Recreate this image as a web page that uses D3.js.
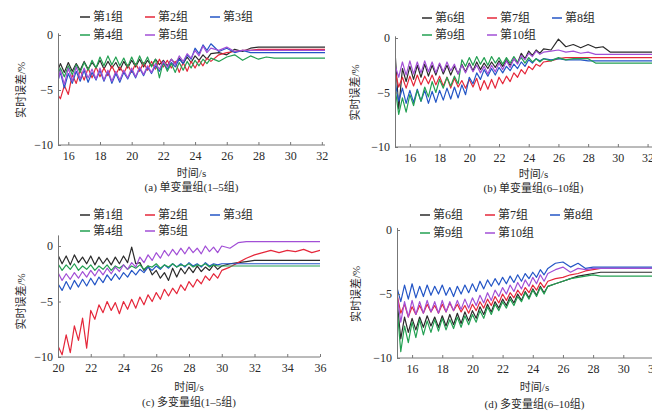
<!DOCTYPE html>
<html>
<head>
<meta charset="utf-8">
<script src="https://cdn.jsdelivr.net/npm/d3@7"></script>
<style>
  body { margin: 0; background: #fff; }
  svg { display: block; }
  text { font-family: "Liberation Serif", "Noto Sans CJK SC", serif; fill: #2a2a2a; }
  .tick text { font-size: 12px; }
  .tick line, .domain { stroke: #777; }
</style>
</head>
<body>
<div class="canvas"></div>
<script>
// time grids (s)
const T1 = [15.0,15.25,15.5,15.75,16.0,16.25,16.5,16.75,17.0,17.25,
  17.5,17.75,18.0,18.25,18.5,18.75,19.0,19.25,19.5,19.75,
  20.0,20.25,20.5,20.75,21.0,21.25,21.5,21.75,22.0,22.25,
  22.5,22.75,23.0,23.25,23.5,23.75,24.0,24.25,24.5,24.75,
  25.0,25.5,26.0,26.5,27.0,27.5,28.0,28.5,29.0,29.5,
  30.0,30.5,31.0,31.5,32.0,32.5];
const T2 = [20.0,20.25,20.5,20.75,21.0,21.25,21.5,21.75,22.0,22.25,
  22.5,22.75,23.0,23.25,23.5,23.75,24.0,24.25,24.5,24.75,
  25.0,25.25,25.5,25.75,26.0,26.25,26.5,26.75,27.0,27.25,
  27.5,27.75,28.0,28.25,28.5,28.75,29.0,29.25,29.5,29.75,
  30.0,30.5,31.0,31.5,32.0,32.5,33.0,33.5,34.0,34.5,
  35.0,35.5,36.0];

const names1 = ['第1组','第2组','第3组','第4组','第5组'];
const names2 = ['第6组','第7组','第8组','第9组','第10组'];
const yTicks = [0, -5, -10];
const xTicks1 = [16,18,20,22,24,26,28,30,32];
const xTicks2 = [20,22,24,26,28,30,32,34,36];

// (a) 单变量组 1-5
const a1 = [-2.8,-3.6,-2.6,-3.4,-2.5,-3.3,-2.6,-3.2,-2.4,-3.1,
  -2.5,-3.0,-2.3,-3.1,-2.4,-3.0,-2.5,-3.2,-2.4,-3.0,
  -2.3,-2.9,-2.2,-2.9,-2.3,-2.8,-2.2,-2.7,-2.3,-2.8,
  -2.2,-2.6,-2.1,-2.6,-2.0,-2.5,-1.9,-2.3,-1.8,-2.2,
  -1.7,-1.6,-1.8,-1.3,-1.5,-1.2,-1.1,-1.1,-1.1,-1.1,
  -1.1,-1.1,-1.1,-1.1,-1.1,-1.1];
const a2 = [-3.0,-5.2,-5.8,-4.6,-5.4,-3.6,-4.4,-3.2,-4.1,-3.0,
  -3.9,-2.9,-3.8,-3.0,-3.7,-2.8,-3.6,-2.9,-3.5,-2.7,
  -3.4,-2.6,-3.3,-2.5,-3.2,-2.4,-3.1,-2.2,-2.9,-2.3,
  -3.0,-2.4,-3.4,-2.5,-3.3,-2.4,-3.0,-2.3,-2.8,-2.1,
  -2.4,-1.8,-1.6,-1.5,-1.4,-1.4,-1.3,-1.3,-1.3,-1.3,
  -1.3,-1.3,-1.3,-1.3,-1.3,-1.3];
const a3 = [-3.0,-4.6,-3.4,-4.8,-3.5,-4.4,-3.3,-4.2,-3.2,-4.3,
  -3.4,-4.1,-3.2,-4.2,-3.3,-4.4,-3.5,-4.3,-3.4,-4.0,
  -3.2,-3.9,-3.0,-3.7,-2.9,-3.5,-2.8,-3.3,-2.6,-3.1,
  -2.5,-2.9,-2.2,-2.6,-1.8,-2.2,-1.2,-1.7,-0.9,-1.4,
  -0.8,-1.5,-1.2,-1.6,-1.4,-1.6,-1.6,-1.6,-1.6,-1.6,
  -1.6,-1.6,-1.6,-1.6,-1.6,-1.6];
const a4 = [-3.2,-4.0,-3.0,-3.8,-2.8,-3.6,-2.7,-3.4,-2.5,-3.2,
  -2.3,-3.0,-2.0,-2.8,-1.9,-2.7,-2.0,-2.8,-2.1,-2.9,
  -2.0,-2.8,-1.9,-2.7,-2.0,-2.9,-2.2,-3.9,-2.4,-3.3,
  -2.6,-3.4,-2.5,-3.2,-2.4,-3.0,-2.3,-2.8,-2.2,-2.6,
  -2.1,-2.4,-2.0,-1.8,-2.3,-1.9,-2.2,-2.0,-2.1,-2.1,
  -2.1,-2.1,-2.1,-2.1,-2.1,-2.1];
const a5 = [-2.8,-4.9,-3.2,-4.5,-3.0,-4.2,-2.9,-4.0,-3.0,-3.9,
  -3.1,-4.0,-3.0,-4.1,-3.2,-4.2,-3.3,-4.1,-3.2,-3.9,
  -3.0,-3.8,-2.9,-3.6,-2.8,-3.4,-2.6,-3.1,-2.4,-2.9,
  -2.2,-2.7,-1.9,-2.4,-1.7,-2.1,-1.4,-1.9,-1.0,-1.6,
  -1.2,-1.4,-1.1,-1.5,-1.4,-1.4,-1.4,-1.4,-1.4,-1.4,
  -1.4,-1.4,-1.4,-1.4,-1.4,-1.4];

// (b) 单变量组 6-10
const b1 = [-1.2,-6.5,-2.8,-4.0,-2.6,-3.8,-2.5,-3.6,-2.4,-3.5,
  -2.5,-3.4,-2.4,-3.3,-2.5,-3.4,-2.6,-3.3,-2.4,-3.1,
  -2.3,-3.0,-2.2,-2.9,-2.3,-2.8,-2.2,-2.7,-2.1,-2.6,
  -2.0,-2.5,-1.9,-2.3,-1.4,-1.9,-1.2,-1.6,-1.1,-1.4,
  -1.0,-1.1,-0.1,-0.8,-0.6,-0.9,-0.6,-0.9,-0.8,-1.3,
  -1.3,-1.3,-1.3,-1.3,-1.3,-1.3];
const b2 = [-3.0,-4.5,-3.6,-4.6,-3.5,-4.4,-3.4,-4.3,-3.5,-4.2,
  -3.4,-4.3,-3.5,-4.4,-3.6,-4.6,-3.7,-4.5,-3.9,-4.6,
  -3.8,-4.5,-3.7,-4.8,-3.9,-4.7,-3.8,-4.6,-3.6,-4.2,
  -3.5,-4.0,-3.2,-3.6,-2.9,-3.3,-2.6,-2.9,-2.4,-2.6,
  -2.2,-2.1,-1.9,-1.8,-1.8,-1.8,-1.8,-1.8,-1.8,-1.8,
  -1.8,-1.8,-1.8,-1.8,-1.8,-1.8];
const b3 = [-4.0,-5.8,-4.6,-6.0,-4.8,-5.9,-4.7,-5.8,-4.8,-6.0,
  -4.9,-5.9,-4.8,-5.7,-4.6,-5.6,-4.5,-5.5,-4.3,-5.2,
  -3.6,-4.2,-3.2,-3.8,-2.9,-3.5,-2.8,-3.4,-2.7,-3.2,
  -2.6,-3.0,-2.4,-2.8,-2.2,-2.6,-2.0,-2.3,-1.9,-2.1,
  -1.9,-2.0,-1.9,-2.0,-2.0,-2.0,-2.1,-2.1,-2.1,-2.1,
  -2.1,-2.1,-2.1,-2.1,-2.1,-2.1];
const b4 = [-4.5,-7.0,-5.5,-6.8,-5.2,-6.2,-4.8,-5.8,-4.5,-5.4,
  -4.0,-5.0,-3.8,-4.6,-3.6,-4.4,-3.5,-4.2,-2.0,-2.6,
  -1.8,-2.5,-1.7,-2.4,-1.8,-2.5,-1.7,-2.3,-1.8,-2.4,
  -1.8,-2.3,-1.7,-2.2,-1.8,-2.3,-1.8,-2.2,-1.9,-2.2,
  -1.9,-2.1,-1.8,-2.0,-1.9,-1.9,-1.9,-2.3,-2.3,-2.3,
  -2.3,-2.3,-2.3,-2.3,-2.3,-2.3];
const b5 = [-2.5,-3.6,-2.2,-3.4,-2.1,-3.3,-2.2,-3.2,-2.1,-3.1,
  -2.2,-3.2,-2.3,-3.1,-2.2,-3.0,-2.4,-3.3,-2.5,-3.2,
  -2.4,-3.1,-2.5,-3.2,-2.6,-3.3,-2.5,-3.1,-2.3,-2.9,
  -2.1,-2.7,-1.9,-2.4,-1.6,-2.0,-1.4,-1.7,-1.2,-1.5,
  -1.3,-1.2,-1.1,-1.3,-1.2,-1.4,-1.3,-1.5,-1.5,-1.5,
  -1.5,-1.5,-1.5,-1.5,-1.5,-1.5];

// (c) 多变量组 1-5
const c1 = [-0.8,-1.6,-0.9,-1.7,-0.8,-1.5,-1.0,-1.6,-0.9,-1.7,
  -1.0,-1.6,-1.1,-1.7,-1.0,-1.6,-0.9,-1.5,-0.1,-1.6,
  -1.5,-2.2,-1.8,-2.6,-2.2,-2.9,-2.4,-3.1,-2.0,-2.8,
  -2.0,-2.5,-1.9,-2.4,-1.8,-2.3,-1.9,-2.2,-1.7,-2.1,
  -1.8,-1.6,-1.5,-1.4,-1.3,-1.3,-1.3,-1.3,-1.3,-1.3,
  -1.3,-1.3,-1.3];
const c2 = [-9.0,-9.8,-8.0,-9.6,-7.2,-8.5,-6.5,-9.2,-5.8,-6.6,
  -5.3,-6.0,-5.0,-5.8,-5.1,-6.1,-5.0,-5.7,-4.8,-5.6,
  -4.6,-5.3,-4.4,-5.0,-4.2,-4.8,-3.9,-4.5,-3.8,-4.3,
  -3.5,-4.0,-3.2,-3.7,-3.0,-3.4,-2.7,-3.1,-2.5,-2.9,
  -2.2,-1.9,-1.5,-1.1,-0.8,-0.6,-0.4,-0.6,-0.4,-0.5,
  -0.3,-0.6,-0.4];
const c3 = [-3.4,-4.0,-3.2,-3.9,-3.1,-3.7,-3.0,-3.6,-2.9,-3.5,
  -2.8,-3.3,-2.6,-3.1,-2.5,-3.0,-2.4,-2.8,-2.2,-2.6,
  -2.1,-2.4,-1.9,-2.2,-1.8,-2.1,-1.7,-2.0,-1.6,-1.9,
  -1.6,-1.9,-1.5,-1.8,-1.6,-1.9,-1.5,-1.8,-1.6,-1.7,
  -1.6,-1.6,-1.6,-1.6,-1.6,-1.6,-1.6,-1.6,-1.6,-1.6,
  -1.6,-1.6,-1.6];
const c4 = [-1.6,-2.2,-1.7,-2.1,-1.6,-2.2,-1.8,-2.1,-1.7,-2.2,
  -1.8,-2.1,-1.7,-2.2,-1.8,-2.0,-1.7,-2.1,-1.8,-2.0,
  -1.7,-2.1,-1.8,-1.9,-1.6,-2.0,-1.7,-1.9,-1.6,-1.9,
  -1.7,-1.8,-1.6,-1.9,-1.7,-1.8,-1.6,-1.9,-1.7,-1.8,
  -1.8,-1.8,-1.8,-1.8,-1.8,-1.8,-1.8,-1.8,-1.8,-1.8,
  -1.8,-1.8,-1.8];
const c5 = [-2.4,-3.1,-2.5,-3.0,-2.4,-2.9,-2.3,-2.8,-2.2,-2.7,
  -2.1,-2.6,-2.0,-2.5,-1.9,-2.3,-1.7,-2.1,-1.5,-1.9,
  -1.0,-1.5,-0.8,-1.3,-0.6,-1.1,-0.4,-0.9,-0.3,-0.8,
  -0.2,-0.7,-0.1,-0.6,-0.2,-0.7,0.0,-0.5,-0.1,-0.6,
  0.0,-0.2,0.3,0.4,0.4,0.4,0.4,0.4,0.4,0.4,
  0.4,0.4,0.4];

// (d) 多变量组 6-10
const d1 = [-5.5,-8.5,-6.8,-8.0,-6.9,-7.8,-6.8,-7.6,-6.7,-7.5,
  -6.8,-7.6,-6.7,-7.5,-6.6,-7.4,-6.5,-7.3,-6.4,-7.1,
  -6.3,-6.9,-6.0,-6.6,-5.8,-6.4,-5.6,-6.1,-5.4,-5.9,
  -5.2,-5.7,-5.0,-5.5,-4.8,-5.3,-4.6,-5.1,-4.4,-4.9,
  -4.4,-4.2,-4.0,-3.8,-3.6,-3.5,-3.4,-3.3,-3.3,-3.3,
  -3.3,-3.3,-3.3,-3.3,-3.3,-3.3];
const d2 = [-5.0,-6.5,-5.8,-6.8,-6.0,-6.6,-5.9,-6.5,-5.8,-6.4,
  -5.9,-6.5,-5.8,-6.4,-5.7,-6.3,-5.8,-6.4,-5.9,-6.5,
  -5.8,-6.3,-5.6,-6.1,-5.4,-5.9,-5.2,-5.7,-5.0,-5.5,
  -4.9,-5.3,-4.7,-5.1,-4.5,-4.9,-4.3,-4.7,-4.1,-4.5,
  -4.0,-3.8,-3.7,-3.5,-3.4,-3.2,-3.1,-3.0,-3.0,-3.0,
  -3.0,-3.0,-3.0,-3.0,-3.0,-3.0];
const d3v = [-4.5,-5.6,-4.3,-5.4,-4.2,-5.3,-4.4,-5.2,-4.3,-5.1,
  -4.4,-5.0,-4.3,-5.1,-4.5,-5.2,-4.4,-5.0,-4.3,-4.9,
  -4.2,-4.8,-4.0,-4.6,-3.9,-4.4,-3.8,-4.3,-3.7,-4.2,
  -3.6,-4.1,-3.5,-4.0,-3.4,-3.8,-3.3,-3.7,-3.1,-3.5,
  -3.0,-2.6,-2.5,-2.9,-2.6,-3.0,-2.9,-2.9,-2.9,-2.9,
  -2.9,-2.9,-2.9,-2.9,-2.9,-2.9];
const d4 = [-6.0,-9.5,-7.5,-8.8,-7.2,-8.4,-7.0,-8.2,-7.1,-8.0,
  -7.0,-7.9,-6.9,-7.8,-7.0,-7.7,-6.8,-7.6,-6.7,-7.4,
  -6.6,-7.2,-6.3,-6.9,-6.0,-6.6,-5.8,-6.3,-5.6,-6.1,
  -5.4,-5.9,-5.2,-5.6,-4.9,-5.4,-4.7,-5.2,-4.5,-5.0,
  -4.4,-4.2,-4.0,-3.8,-3.7,-3.6,-3.5,-3.6,-3.6,-3.6,
  -3.6,-3.6,-3.6,-3.6,-3.6,-3.6];
const d5 = [-5.0,-7.2,-5.6,-6.8,-5.5,-6.6,-5.6,-6.5,-5.5,-6.4,
  -5.6,-6.5,-5.5,-6.4,-5.6,-6.3,-5.5,-6.2,-5.4,-6.1,
  -5.3,-5.9,-5.1,-5.7,-4.9,-5.5,-4.7,-5.2,-4.5,-5.0,
  -4.3,-4.8,-4.1,-4.6,-3.9,-4.4,-3.7,-4.2,-3.5,-4.0,
  -3.4,-3.1,-2.9,-3.3,-3.0,-3.1,-3.0,-3.0,-3.0,-3.0,
  -3.0,-3.0,-3.0,-3.0,-3.0,-3.0];

const colours = ['#2b2b2b', '#e5273a', '#2456c6', '#23a052', '#a24fd6'];

// layout of the four panels
const panels = [
  { t: T1, series: [a1,a2,a3,a4,a5], names: names1, xTicks: xTicks1, dom: [15.35, 32.2],
    left: 58, right: 325, top: 35, bottom: 145, ext: 0.2, legX: 80, legY: [17, 35],
    ylabX: 22, titleY: 177, capY: 191, cap: '(a) 单变量组(1–5组)' },
  { t: T1, series: [b1,b2,b3,b4,b5], names: names2, xTicks: xTicks1, dom: [15, 32.5],
    left: 395, right: 655, top: 38, bottom: 147, ext: 0.2, legX: 422, legY: [18, 35],
    ylabX: 356, titleY: 178, capY: 192, cap: '(b) 单变量组(6–10组)' },
  { t: T2, series: [c1,c2,c3,c4,c5], names: names1, xTicks: xTicks2, dom: [20, 36],
    left: 58, right: 320, top: 246, bottom: 357, ext: 1.0, legX: 80, legY: [215, 231],
    ylabX: 22, titleY: 391, capY: 406, cap: '(c) 多变量组(1–5组)' },
  { t: T1, series: [d1,d2,d3v,d4,d5], names: names2, xTicks: xTicks1, dom: [15, 32.5],
    left: 397, right: 661, top: 230, bottom: 358, ext: 0.2, legX: 420, legY: [215, 233],
    ylabX: 357, titleY: 391, capY: 408, cap: '(d) 多变量组(6–10组)' }
];

const svg = d3.select('.canvas')
  .append('svg')
  .attr('width', 652)
  .attr('height', 417);

panels.forEach((p, pi) => {
  const x = d3.scaleLinear().domain(p.dom).range([p.left, p.right]);
  const y = d3.scaleLinear().domain([-10, 0]).range([p.bottom, p.top]);
  const yAx = y.copy().domain([-10, p.ext]).range([p.bottom, y(p.ext)]);

  const g = svg.append('g');

  // clip lines to the x range of the plot
  g.append('clipPath').attr('id', 'clip' + pi)
    .append('rect')
      .attr('x', p.left).attr('y', y(2))
      .attr('width', p.right - p.left).attr('height', y(-11) - y(2));

  const line = d3.line()
    .x(d => x(d[0]))
    .y(d => y(d[1]));

  const lines = g.append('g').attr('clip-path', `url(#clip${pi})`);
  p.series.forEach((s, i) => {
    const pts = s.slice(0, p.t.length).map((v, k) => [p.t[k], v]);
    lines.append('path')
      .datum(pts)
      .attr('fill', 'none')
      .attr('stroke', colours[i])
      .attr('stroke-width', 1.2)
      .attr('stroke-linejoin', 'round')
      .attr('d', line);
  });

  // axes
  g.append('g')
    .attr('transform', `translate(0,${p.bottom})`)
    .call(d3.axisBottom(x).tickValues(p.xTicks).tickSizeInner(-3).tickSizeOuter(0).tickPadding(6))
    .call(a => a.select('.domain').attr('d', `M${p.left},0H${p.right}`));

  g.append('g')
    .attr('transform', `translate(${p.left},0)`)
    .call(d3.axisLeft(yAx).tickValues(yTicks).tickSizeInner(-3).tickSizeOuter(0).tickPadding(5)
      .tickFormat(d => d < 0 ? '−' + Math.abs(d) : d));

  // axis titles
  g.append('text')
    .attr('transform', `translate(${p.ylabX},${(p.top + p.bottom) / 2}) rotate(-90)`)
    .attr('text-anchor', 'middle')
    .attr('dominant-baseline', 'middle')
    .style('font-size', '11px')
    .text('实时误差/%');

  g.append('text')
    .attr('x', (p.left + Math.min(p.right, 652)) / 2 + (pi % 2 ? 10 : 0))
    .attr('y', p.titleY)
    .attr('text-anchor', 'middle')
    .style('font-size', '11px')
    .text('时间/s');

  g.append('text')
    .attr('x', (p.left + Math.min(p.right, 652)) / 2 + (pi % 2 ? 10 : 0))
    .attr('y', p.capY)
    .attr('text-anchor', 'middle')
    .style('font-size', '11px')
    .text(p.cap);

  // legend, 3 + 2 items
  const leg = g.append('g');
  p.names.forEach((n, i) => {
    const lx = p.legX + (i % 3) * 65;
    const ly = p.legY[i < 3 ? 0 : 1];
    const item = leg.append('g').attr('transform', `translate(${lx},${ly})`);
    item.append('line')
      .attr('x1', 0).attr('x2', 10)
      .attr('stroke', colours[i]).attr('stroke-width', 1.5);
    item.append('text')
      .attr('x', 13).attr('dy', '0.35em')
      .style('font-size', '12px')
      .text(n);
  });
});
</script>
</body>
</html>
